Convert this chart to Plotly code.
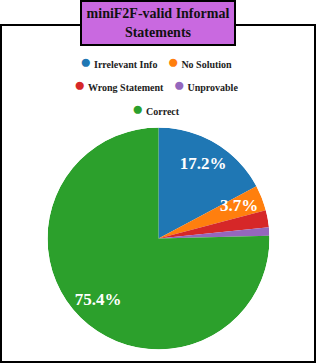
import plotly.graph_objects as go

categories = ["Irrelevant Info", "No Solution", "Wrong Statement", "Unprovable", "Correct"]
values = [17.2, 3.7, 2.5, 1.2, 75.4]
colors = ["#1f77b4", "#ff7f0e", "#d62728", "#9467bd", "#2ca02c"]
title_lines = ["miniF2F-valid Informal", "Statements"]

W, H = 317, 363
FONT = "Liberation Serif"
PIE_DOMAIN = dict(x=[47.5 / W, 269.5 / W], y=[(H - 349.5) / H, (H - 127.5) / H])

total = sum(values)
shares = [v / total for v in values]
mids, cum = [], 0
for s in shares:
    mids.append((cum + s / 2) * 360)
    cum += s

fig = go.Figure()
# pie wedges drawn on a polar axis (clockwise from 12 o'clock)
fig.add_trace(go.Barpolar(
    r=[1] * len(values), theta=mids, width=[s * 360 for s in shares],
    marker=dict(color=colors, line=dict(width=0)),
    text=categories, hovertemplate="%{text}<extra></extra>", showlegend=False,
))
# percentage labels
show = [i for i, v in enumerate(values) if v >= 3]
fig.add_trace(go.Scatterpolar(
    r=[0.78] * len(show), theta=[mids[i] for i in show],
    text=[f"<b>{shares[i] * 100:.1f}%</b>" for i in show], mode="text",
    textfont=dict(color="white", size=17, family=FONT),
    showlegend=False, hoverinfo="skip",
))
fig.update_layout(polar=dict(
    domain=PIE_DOMAIN, bgcolor="rgba(0,0,0,0)",
    radialaxis=dict(range=[0, 1], visible=False),
    angularaxis=dict(rotation=90, direction="clockwise", visible=False),
))

# legend rows, each centered
rows = [[0, 1], [2, 3], [4]]
row_y = [61.5, 84.5, 108.5]
for r, yy in zip(rows, row_y):
    parts = []
    for i in r:
        parts.append(f"<span style='color:{colors[i]};font-size:19px'>●</span> <b>{categories[i]}</b>")
    fig.add_annotation(
        text="&nbsp;&nbsp;&nbsp;&nbsp;".join(parts), x=155.5 / W, y=(H - yy) / H,
        xref="paper", yref="paper", xanchor="center", yanchor="middle",
        showarrow=False, font=dict(family=FONT, size=10, color="#222"),
    )

# frame
fig.add_shape(type="rect", xref="paper", yref="paper",
              x0=1 / W, x1=315 / W, y0=1 / H, y1=(H - 25) / H,
              line=dict(color="black", width=2), fillcolor="rgba(0,0,0,0)")

# title box
fig.add_annotation(
    text="<b>" + "<br>".join(title_lines) + "</b>",
    x=158 / W, y=1, xref="paper", yref="paper", xanchor="center", yanchor="top",
    showarrow=False, font=dict(family=FONT, size=14, color="#111"),
    bgcolor="#c969e0", bordercolor="black", borderwidth=2, borderpad=0,
    width=152, height=42,
)

fig.update_layout(
    width=W, height=H, margin=dict(l=0, r=0, t=0, b=0),
    paper_bgcolor="white", plot_bgcolor="white",
)
fig.write_html("out.html", config={"displayModeBar": False},
               post_script="document.body.style.margin='0';")
